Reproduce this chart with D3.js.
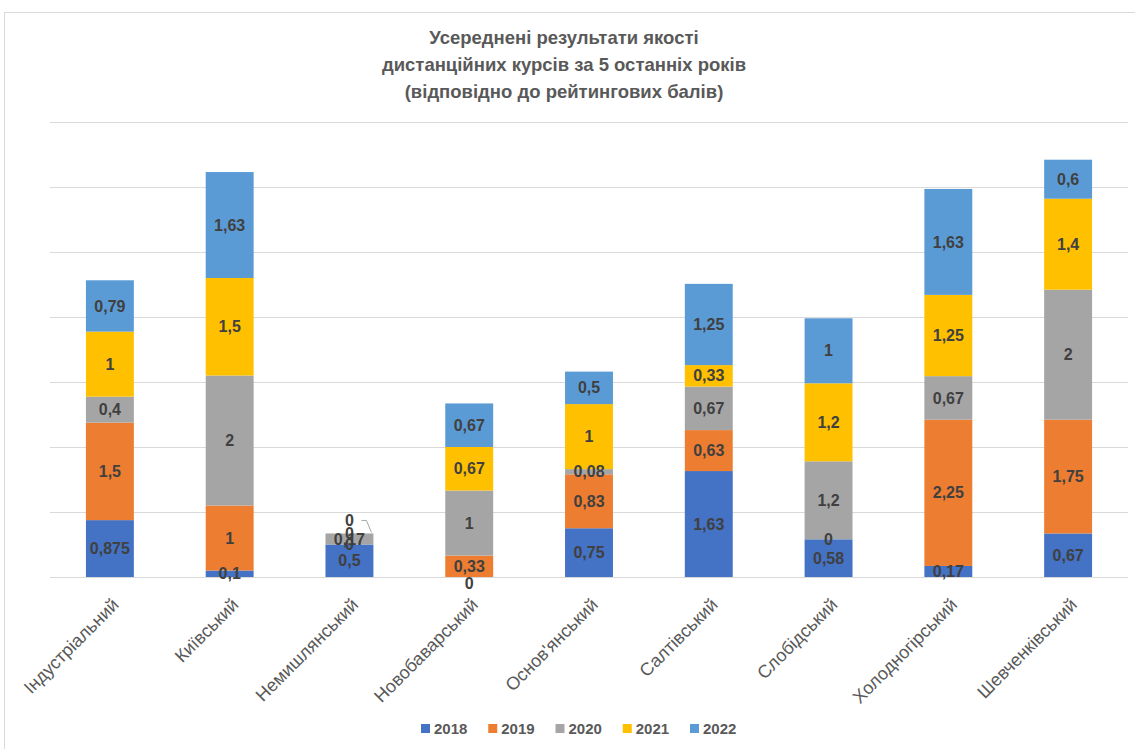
<!DOCTYPE html>
<html>
<head>
<meta charset="utf-8">
<title>Stacked</title>
<script src="https://cdn.jsdelivr.net/npm/d3@7"></script>
<style>
body { margin: 0; background: #fff; }
svg text { font-family: "Liberation Sans", Arial, sans-serif; }
.grid line { stroke: #d9d9d9; stroke-width: 1; }
.lbl { font-size: 16px; font-weight: bold; fill: #404040; }
.cat { font-size: 18px; fill: #595959; }
.title { font-size: 18.5px; font-weight: bold; fill: #595959; }
.leg { font-size: 15px; font-weight: bold; fill: #595959; }
</style>
</head>
<body>
<script>
var districts = ["Індустріальний", "Київський", "Немишлянський", "Новобаварський", "Основ'янський",
                 "Салтівський", "Слобідський", "Холодногірський", "Шевченківський"];
var years = ["2018", "2019", "2020", "2021", "2022"];
var v2018 = [0.875, 0.1, 0.5, 0, 0.75, 1.63, 0.58, 0.17, 0.67];
var v2019 = [1.5, 1, 0, 0.33, 0.83, 0.63, 0, 2.25, 1.75];
var v2020 = [0.4, 2, 0.17, 1, 0.08, 0.67, 1.2, 0.67, 2];
var v2021 = [1, 1.5, 0, 0.67, 1, 0.33, 1.2, 1.25, 1.4];
var v2022 = [0.79, 1.63, 0, 0.67, 0.5, 1.25, 1, 1.63, 0.6];
var colors = ["#4472C4", "#ED7D31", "#A5A5A5", "#FFC000", "#5B9BD5"];
var titleLines = ["Усереднені результати якості", "дистанційних курсів за 5 останніх років", "(відповідно до рейтингових балів)"];

var width = 1135, height = 749;
var svg = d3.select("body").append("svg").attr("width", width).attr("height", height);

// chart frame
svg.append("rect").attr("x", 4.5).attr("y", 12.5).attr("width", 1200).attr("height", 800)
   .attr("fill", "none").attr("stroke", "#d9d9d9");

var rows = districts.map(function(d, i){
  return {name: d, "2018": v2018[i], "2019": v2019[i], "2020": v2020[i], "2021": v2021[i], "2022": v2022[i]};
});
var series = d3.stack().keys(years)(rows);

var x = d3.scaleBand().domain(districts).range([50, 1128]).paddingInner(0.6).paddingOuter(0.3);
var y = d3.scaleLinear().domain([0, 7]).range([577, 122]);

svg.append("g").attr("class", "grid")
   .selectAll("line").data(y.ticks(7)).enter().append("line")
   .attr("x1", 50).attr("x2", 1128)
   .attr("y1", function(d){ return Math.round(y(d)) + 0.5; })
   .attr("y2", function(d){ return Math.round(y(d)) + 0.5; });

var g = svg.selectAll("g.s").data(series).enter().append("g")
   .attr("class", "s").attr("fill", function(d, i){ return colors[i]; });
g.selectAll("rect").data(function(d){ return d; }).enter().append("rect")
   .attr("x", function(d){ return x(d.data.name); })
   .attr("width", x.bandwidth())
   .attr("y", function(d){ return y(d[1]); })
   .attr("height", function(d){ return y(d[0]) - y(d[1]); });

// data labels
var fmt = function(v){ return String(v).replace(".", ","); };
series.forEach(function(s, si){
  s.forEach(function(d){
    var cx = x(d.data.name) + x.bandwidth() / 2;
    var cy = (y(d[0]) + y(d[1])) / 2;
    var isTopZero = (d[1] - d[0] === 0 && si === years.length - 1);
    if (isTopZero) {
      // moved-out label with leader, as Excel does
      svg.append("polyline")
         .attr("points", [[cx + 12, cy - 13], [cx + 17, cy - 13], [cx + 22, cy - 1]].join(" "))
         .attr("fill", "none").attr("stroke", "#a6a6a6");
      cy = cy - 13;
    }
    if (d[1] - d[0] === 0 && d[0] === 0) cy += 6;
    svg.append("text").attr("class", "lbl")
       .attr("x", cx).attr("y", cy).attr("dy", "0.35em")
       .attr("text-anchor", "middle")
       .text(fmt(d[1] - d[0] === 0 ? 0 : d.data[s.key]));
  });
});

// category labels
svg.append("g").selectAll("text").data(districts).enter().append("text")
   .attr("class", "cat")
   .attr("text-anchor", "end")
   .attr("transform", function(d){
     return "translate(" + (x(d) + x.bandwidth() / 2 + 10) + ",606) rotate(-45)";
   })
   .text(function(d){ return d; });

// title
svg.append("g").selectAll("text").data(titleLines).enter().append("text")
   .attr("class", "title").attr("text-anchor", "middle")
   .attr("x", 564).attr("y", function(d, i){ return 44 + i * 27; })
   .text(function(d){ return d; });

// legend
var leg = svg.append("g").attr("transform", "translate(421,729)");
var lx = d3.scalePoint().domain(years).range([0, 269]);
var li = leg.selectAll("g").data(years).enter().append("g")
   .attr("transform", function(d){ return "translate(" + lx(d) + ",0)"; });
li.append("rect").attr("x", 0).attr("y", -5).attr("width", 9).attr("height", 9)
   .attr("fill", function(d, i){ return colors[i]; });
li.append("text").attr("class", "leg").attr("x", 13).attr("y", 0).attr("dy", "0.35em")
   .text(function(d){ return d; });
</script>
</body>
</html>
